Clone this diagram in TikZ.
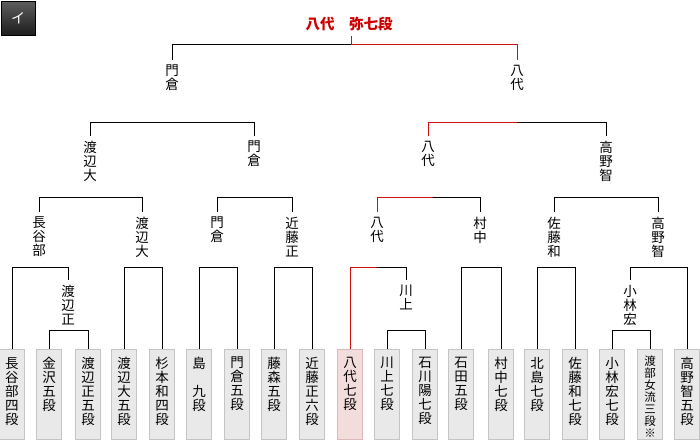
\documentclass[tikz,border=0pt]{standalone}
\usepackage{fontspec}
\newfontfamily\cjk{Noto Sans CJK JP}
\usetikzlibrary{calc}
\definecolor{winred}{RGB}{208,16,16}
\definecolor{titlered}{RGB}{204,0,0}
\definecolor{boxfill}{HTML}{E9E9E9}
\definecolor{boxline}{HTML}{C4C4C4}
\definecolor{winfill}{HTML}{F3DCDC}
\definecolor{winline}{HTML}{DDB8B8}
\definecolor{badgetop}{HTML}{5E5E5E}
\definecolor{badgebot}{HTML}{1C1C1C}
\begin{document}
\begin{tikzpicture}[x=1pt,y=-1pt,
  line/.style={line width=1pt, black},
  redline/.style={line width=1pt, winred},
  vlabel/.style={font=\cjk\fontsize{13.5}{14}\selectfont, align=center, inner sep=0pt, outer xsep=0pt, outer ysep=5pt, anchor=north},
  player/.style={draw=boxline, fill=boxfill, line width=0.8pt, minimum width=25pt, minimum height=90pt, inner sep=0pt, anchor=north},
  winner/.style={player, draw=winline, fill=winfill},
  ptext/.style={font=\cjk\fontsize{13.5}{14}\selectfont, align=center, inner sep=0pt, anchor=north},
  ptextsmall/.style={ptext, font=\cjk\fontsize{11.5}{12}\selectfont},
  titletext/.style={font=\cjk\bfseries\fontsize{14.5}{16}\selectfont, text=titlered, inner sep=0pt},
  badgebox/.style={draw=black, line width=0.8pt, top color=badgetop, bottom color=badgebot, minimum size=34pt, inner sep=0pt, text=white, font=\cjk\fontsize{14}{14}\selectfont}
]
\useasboundingbox (0,0) rectangle (700,440);

% badge and title
\node[badgebox] (badge) at (18,18) {イ};
\node[titletext] (title) at (349,24) {八代　弥七段};
\coordinate (tick) at (351,36);

% horizontal levels
\coordinate (yA) at (0,44);
\coordinate (yB) at (0,122);
\coordinate (yC) at (0,197);
\coordinate (yD) at (0,267);
\coordinate (yE) at (0,330);

% labels level 1
\node[vlabel] (m1) at (172,60) {門\\倉};
\node[vlabel] (y1) at (517,60) {八\\代};
% level 2
\node[vlabel] (w1) at (90,136) {渡\\辺\\大};
\node[vlabel] (m2) at (254,136) {門\\倉};
\node[vlabel] (y2) at (428,136) {八\\代};
\node[vlabel] (t2) at (606,136) {高\\野\\智};
% level 3
\node[vlabel] (h3) at (39,212) {長\\谷\\部};
\node[vlabel] (w3) at (142,212) {渡\\辺\\大};
\node[vlabel] (m3) at (217,212) {門\\倉};
\node[vlabel] (k3) at (292,212) {近\\藤\\正};
\node[vlabel] (y3) at (377,212) {八\\代};
\node[vlabel] (mu3) at (480,212) {村\\中};
\node[vlabel] (s3) at (554,212) {佐\\藤\\和};
\node[vlabel] (t3) at (658,212) {高\\野\\智};
% level 4
\node[vlabel] (wm) at (68,280) {渡\\辺\\正};
\node[vlabel] (ka) at (406,280) {川\\上};
\node[vlabel] (ko) at (630,280) {小\\林\\宏};

% players
\node[player] (b1) at (12,349) {};
\node[player] (b2) at (49,349) {};
\node[player] (b3) at (88,349) {};
\node[player] (b4) at (124,349) {};
\node[player] (b5) at (162,349) {};
\node[player] (b6) at (199,349) {};
\node[player] (b7) at (237,349) {};
\node[player] (b8) at (274,349) {};
\node[player] (b9) at (312,349) {};
\node[winner] (b10) at (350,349) {};
\node[player] (b11) at (387,349) {};
\node[player] (b12) at (425,349) {};
\node[player] (b13) at (461,349) {};
\node[player] (b14) at (501,349) {};
\node[player] (b15) at (537,349) {};
\node[player] (b16) at (575,349) {};
\node[player] (b17) at (612,349) {};
\node[player] (b18) at (650,349) {};
\node[player] (b19) at (687,349) {};

\node[ptext] (n1) at ([yshift=-8pt]b1.north) {長\\谷\\部\\四\\段};
\node[ptext] (n2) at ([yshift=-8pt]b2.north) {金\\沢\\五\\段};
\node[ptext] (n3) at ([yshift=-8pt]b3.north) {渡\\辺\\正\\五\\段};
\node[ptext] (n4) at ([yshift=-8pt]b4.north) {渡\\辺\\大\\五\\段};
\node[ptext] (n5) at ([yshift=-8pt]b5.north) {杉\\本\\和\\四\\段};
\node[ptext] (n6) at ([yshift=-8pt]b6.north) {島\\[14pt]九\\段};
\node[ptext] (n7) at ([yshift=-8pt]b7.north) {門\\倉\\五\\段};
\node[ptext] (n8) at ([yshift=-8pt]b8.north) {藤\\森\\五\\段};
\node[ptext] (n9) at ([yshift=-8pt]b9.north) {近\\藤\\正\\六\\段};
\node[ptext] (n10) at ([yshift=-8pt]b10.north) {八\\代\\七\\段};
\node[ptext] (n11) at ([yshift=-8pt]b11.north) {川\\上\\七\\段};
\node[ptext] (n12) at ([yshift=-8pt]b12.north) {石\\川\\陽\\七\\段};
\node[ptext] (n13) at ([yshift=-8pt]b13.north) {石\\田\\五\\段};
\node[ptext] (n14) at ([yshift=-8pt]b14.north) {村\\中\\七\\段};
\node[ptext] (n15) at ([yshift=-8pt]b15.north) {北\\島\\七\\段};
\node[ptext] (n16) at ([yshift=-8pt]b16.north) {佐\\藤\\和\\七\\段};
\node[ptext] (n17) at ([yshift=-8pt]b17.north) {小\\林\\宏\\七\\段};
\node[ptextsmall] (n18) at ([yshift=-7pt]b18.north) {渡\\部\\女\\流\\三\\段\\※};
\node[ptext] (n19) at ([yshift=-8pt]b19.north) {高\\野\\智\\五\\段};

% ---- brackets ----
% top
\draw[line] (m1.north) -- (m1.north |- yA) -- (y1.north |- yA) -- (y1.north);
\draw[redline] (tick) -- (tick |- yA) -- (y1.north |- yA) -- (y1.north);
% level 2
\draw[line] (w1.north) -- (w1.north |- yB) -- (m2.north |- yB) -- (m2.north);
\draw[line] (y2.north) -- (y2.north |- yB) -- (t2.north |- yB) -- (t2.north);
\draw[redline] (y1.south |- yB) -- (y2.north |- yB) -- (y2.north);
% level 3
\draw[line] (h3.north) -- (h3.north |- yC) -- (w3.north |- yC) -- (w3.north);
\draw[line] (m3.north) -- (m3.north |- yC) -- (k3.north |- yC) -- (k3.north);
\draw[line] (y3.north) -- (y3.north |- yC) -- (mu3.north |- yC) -- (mu3.north);
\draw[redline] ([xshift=5pt]y2.south |- yC) -- (y3.north |- yC) -- (y3.north);
\draw[line] (s3.north) -- (s3.north |- yC) -- (t3.north |- yC) -- (t3.north);
% level 4
\draw[line] (b1.north) -- (b1.north |- yD) -- (wm.north |- yD) -- (wm.north);
\draw[line] (b4.north) -- (b4.north |- yD) -- (b5.north |- yD) -- (b5.north);
\draw[line] (b6.north) -- (b6.north |- yD) -- (b7.north |- yD) -- (b7.north);
\draw[line] (b8.north) -- (b8.north |- yD) -- (b9.north |- yD) -- (b9.north);
\draw[line] (b10.north) -- (b10.north |- yD) -- (ka.north |- yD) -- (ka.north);
\draw[redline] (y3.south |- yD) -- (b10.north |- yD) -- (b10.north);
\draw[line] (b13.north) -- (b13.north |- yD) -- (b14.north |- yD) -- (b14.north);
\draw[line] (b15.north) -- (b15.north |- yD) -- (b16.north |- yD) -- (b16.north);
\draw[line] (ko.north) -- (ko.north |- yD) -- (b19.north |- yD) -- (b19.north);
% level 5
\draw[line] (b2.north) -- (b2.north |- yE) -- (b3.north |- yE) -- (b3.north);
\draw[line] (b11.north) -- (b11.north |- yE) -- (b12.north |- yE) -- (b12.north);
\draw[line] (b17.north) -- (b17.north |- yE) -- (b18.north |- yE) -- (b18.north);
\end{tikzpicture}
\end{document}
